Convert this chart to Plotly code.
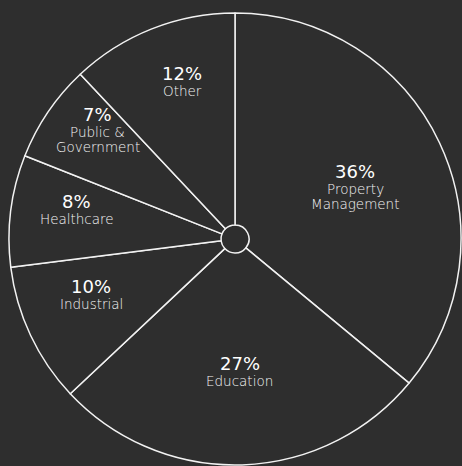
import math
import plotly.graph_objects as go

# Share of work by market sector (percent)
sectors = ["Property<br>Management", "Education", "Industrial", "Healthcare",
           "Public &<br>Government", "Other"]
shares = [36, 27, 10, 8, 7, 12]

W, H = 462, 466
BG = "#2e2e2e"
LINE = "#f2f2f2"

# Pie placement in pixels (center and radius) and hole size
CX, CY, R = 235, 239, 226
HOLE = 0.062

# Per-slice label placement: (fraction of radius, angle shift in degrees)
label_place = [(0.61, -4), (0.55, -0.5), (0.67, 7), (0.72, 6), (0.82, 8), (0.77, 4)]

# Text sizes and vertical rhythm (px)
PCT_SIZE, NAME_SIZE = 18, 13.5
FIRST_GAP, LINE_GAP = 17.5, 15

fig = go.Figure(go.Pie(
    labels=sectors,
    values=shares,
    sort=False,
    direction="clockwise",
    rotation=0,
    hole=HOLE,
    textinfo="none",
    hoverinfo="label+percent",
    marker=dict(colors=[BG] * len(shares), line=dict(color=LINE, width=1.5)),
    domain=dict(x=[(CX - R) / W, (CX + R) / W],
                y=[(H - CY - R) / H, (H - CY + R) / H]),
    showlegend=False,
))

annotations = []
total = sum(shares)
start = 0.0
for name, v, (frac, shift) in zip(sectors, shares, label_place):
    span = 360.0 * v / total
    mid = math.radians(start + span / 2 + shift)
    start += span
    px = CX + R * frac * math.sin(mid)
    py = CY - R * frac * math.cos(mid)
    x, y = px / W, 1 - py / H
    annotations.append(dict(
        x=x, y=y, xref="paper", yref="paper", showarrow=False,
        text=f"{round(100 * v / total)}%", xanchor="center", yanchor="middle",
        font=dict(family="DejaVu Sans", size=PCT_SIZE, color="#ffffff", weight=500),
    ))
    # Each line of the sector name is its own annotation for tighter spacing
    for i, part in enumerate(name.split("<br>")):
        annotations.append(dict(
            x=x, y=y, xref="paper", yref="paper", showarrow=False,
            text=part, xanchor="center", yanchor="middle",
            yshift=-(FIRST_GAP + i * LINE_GAP),
            font=dict(family="DejaVu Sans", size=NAME_SIZE, color="#f4f4f4", weight=300),
        ))

fig.update_layout(
    width=W, height=H,
    margin=dict(l=0, r=0, t=0, b=0),
    paper_bgcolor=BG, plot_bgcolor=BG,
    annotations=annotations,
)

fig.write_html("out.html")
